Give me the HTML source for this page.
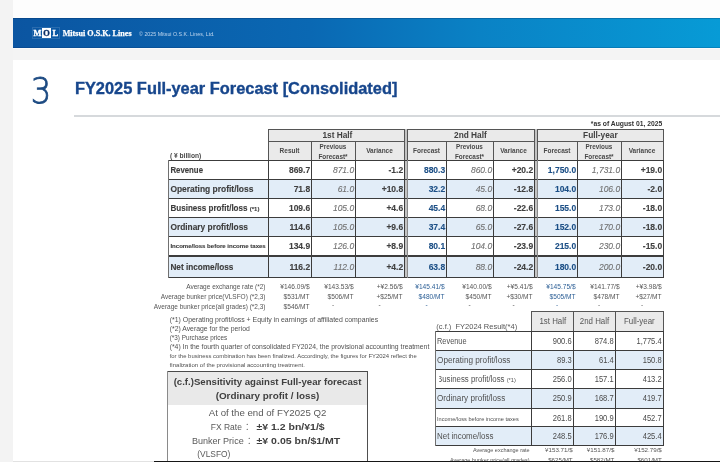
<!DOCTYPE html>
<html><head><meta charset="utf-8"><title>FY2025 Full-year Forecast [Consolidated]</title>
<style>
html,body{margin:0;padding:0;width:720px;height:462px;overflow:hidden;background:#f3f3f3;}
svg{display:block;font-family:"Liberation Sans","Noto Sans CJK JP",sans-serif;}
text{white-space:pre;}
</style></head><body>
<svg width="720" height="462" viewBox="0 0 720 462">
<defs><linearGradient id="g1" x1="0" y1="0" x2="1" y2="0"><stop offset="0" stop-color="#0b55a1"/><stop offset="0.42" stop-color="#0a68b3"/><stop offset="0.66" stop-color="#0a82c5"/><stop offset="1" stop-color="#079bd6"/></linearGradient></defs>
<rect x="0" y="0" width="720" height="462" fill="#f3f3f3"/>
<rect x="13" y="0" width="707" height="18" fill="#fdfdfd"/>
<rect x="13" y="18" width="707" height="30" fill="url(#g1)"/>
<rect x="13" y="48" width="707" height="12" fill="#f4f4f4"/>
<rect x="13" y="48" width="707" height="1" fill="#fafafa"/>
<rect x="13" y="18" width="707" height="1" fill="rgba(0,30,80,0.25)"/>
<rect x="13" y="47" width="707" height="1" fill="rgba(0,30,80,0.18)"/>
<rect x="13" y="60" width="707" height="402" fill="#ffffff"/>
<rect x="13" y="461" width="141" height="1" fill="#e2e2e2"/>
<rect x="154" y="461" width="566" height="1" fill="#161616"/>
<rect x="32.5" y="27.5" width="27" height="11" fill="none" stroke="rgba(255,255,255,0.13)" stroke-width="1"/>
<rect x="42" y="28" width="9" height="10" fill="#ffffff"/>
<text x="37.35" y="35.8" font-size="8.4" fill="#ffffff" stroke="#ffffff" stroke-width="0.35" font-weight="700" font-family="'Liberation Serif',serif" text-anchor="middle">M</text>
<text x="46.4" y="35.8" font-size="8.4" fill="#0d2f66" stroke="#0d2f66" stroke-width="0.35" font-weight="700" font-family="'Liberation Serif',serif" text-anchor="middle">O</text>
<text x="55.4" y="35.8" font-size="8.4" fill="#ffffff" stroke="#ffffff" stroke-width="0.35" font-weight="700" font-family="'Liberation Serif',serif" text-anchor="middle">L</text>
<text x="62.7" y="35.8" font-size="8.1" fill="#ffffff" stroke="#ffffff" stroke-width="0.25" font-weight="700" font-family="'Liberation Serif',serif" textLength="68.9" lengthAdjust="spacingAndGlyphs">Mitsui O.S.K. Lines</text>
<text x="139" y="35.6" font-size="5.4" fill="#c0d6ee" textLength="75.6" lengthAdjust="spacingAndGlyphs">&copy; 2025 Mitsui O.S.K. Lines, Ltd.</text>
<text x="0" y="0" transform="translate(30.7 103.3) scale(0.9 1)" font-size="35.8" font-weight="200" font-family="'DejaVu Sans',sans-serif" fill="#1c4a82" stroke="#1c4a82" stroke-width="0.85">3</text>
<text x="74.9" y="93.75" font-size="16.3" fill="#17468c" stroke="#17468c" stroke-width="0.35" font-weight="700" textLength="322.5" lengthAdjust="spacingAndGlyphs">FY2025 Full-year Forecast [Consolidated]</text>
<rect x="74" y="115" width="646" height="2" fill="#d6d9dc"/>
<text x="662.2" y="125.8" font-size="6.75" fill="#333333" font-weight="700" text-anchor="end">*as of August 01, 2025</text>
<rect x="268" y="129" width="136" height="31" fill="#eaeaea"/>
<rect x="407" y="129" width="127" height="31" fill="#eaeaea"/>
<rect x="537" y="129" width="126" height="31" fill="#eaeaea"/>
<rect x="168" y="160" width="236" height="19" fill="#ffffff"/>
<rect x="407" y="160" width="127" height="19" fill="#ffffff"/>
<rect x="537" y="160" width="126" height="19" fill="#ffffff"/>
<rect x="168" y="179" width="236" height="19" fill="#e2edf8"/>
<rect x="407" y="179" width="127" height="19" fill="#e2edf8"/>
<rect x="537" y="179" width="126" height="19" fill="#e2edf8"/>
<rect x="168" y="198" width="236" height="19" fill="#ffffff"/>
<rect x="407" y="198" width="127" height="19" fill="#ffffff"/>
<rect x="537" y="198" width="126" height="19" fill="#ffffff"/>
<rect x="168" y="217" width="236" height="19" fill="#e2edf8"/>
<rect x="407" y="217" width="127" height="19" fill="#e2edf8"/>
<rect x="537" y="217" width="126" height="19" fill="#e2edf8"/>
<rect x="168" y="236" width="236" height="19" fill="#ffffff"/>
<rect x="407" y="236" width="127" height="19" fill="#ffffff"/>
<rect x="537" y="236" width="126" height="19" fill="#ffffff"/>
<rect x="168" y="255" width="236" height="22" fill="#e2edf8"/>
<rect x="407" y="255" width="127" height="22" fill="#e2edf8"/>
<rect x="537" y="255" width="126" height="22" fill="#e2edf8"/>
<rect x="405" y="129" width="2" height="149" fill="#c2c2c2"/>
<rect x="535" y="129" width="2" height="149" fill="#c2c2c2"/>
<rect x="268" y="129" width="137" height="1" fill="#555555"/>
<rect x="268" y="141" width="137" height="1" fill="#555555"/>
<rect x="268" y="129" width="1" height="31" fill="#555555"/>
<rect x="404" y="129" width="1" height="31" fill="#555555"/>
<rect x="311" y="141" width="1" height="19" fill="#555555"/>
<rect x="355" y="141" width="1" height="19" fill="#555555"/>
<rect x="407" y="129" width="128" height="1" fill="#555555"/>
<rect x="407" y="141" width="128" height="1" fill="#555555"/>
<rect x="407" y="129" width="1" height="31" fill="#555555"/>
<rect x="534" y="129" width="1" height="31" fill="#555555"/>
<rect x="446" y="141" width="1" height="19" fill="#555555"/>
<rect x="493" y="141" width="1" height="19" fill="#555555"/>
<rect x="537" y="129" width="127" height="1" fill="#555555"/>
<rect x="537" y="141" width="127" height="1" fill="#555555"/>
<rect x="537" y="129" width="1" height="31" fill="#555555"/>
<rect x="663" y="129" width="1" height="31" fill="#555555"/>
<rect x="577" y="141" width="1" height="19" fill="#555555"/>
<rect x="621" y="141" width="1" height="19" fill="#555555"/>
<rect x="168" y="160" width="496" height="1" fill="#3c3c3c"/>
<rect x="168" y="179" width="496" height="1" fill="#3c3c3c"/>
<rect x="168" y="198" width="496" height="1" fill="#3c3c3c"/>
<rect x="168" y="217" width="496" height="1" fill="#3c3c3c"/>
<rect x="168" y="236" width="496" height="1" fill="#3c3c3c"/>
<rect x="168" y="255" width="496" height="2" fill="#3c3c3c"/>
<rect x="168" y="277" width="496" height="1" fill="#3c3c3c"/>
<rect x="168" y="160" width="1" height="118" fill="#707070"/>
<rect x="268" y="160" width="1" height="118" fill="#3c3c3c"/>
<rect x="311" y="160" width="1" height="118" fill="#3c3c3c"/>
<rect x="355" y="160" width="1" height="118" fill="#3c3c3c"/>
<rect x="404" y="160" width="1" height="118" fill="#3c3c3c"/>
<rect x="407" y="160" width="1" height="118" fill="#8a8a8a"/>
<rect x="446" y="160" width="1" height="118" fill="#3c3c3c"/>
<rect x="493" y="160" width="1" height="118" fill="#3c3c3c"/>
<rect x="534" y="160" width="1" height="118" fill="#3c3c3c"/>
<rect x="537" y="160" width="1" height="118" fill="#8a8a8a"/>
<rect x="577" y="160" width="1" height="118" fill="#3c3c3c"/>
<rect x="621" y="160" width="1" height="118" fill="#3c3c3c"/>
<rect x="663" y="160" width="1" height="118" fill="#3c3c3c"/>
<text x="337.4" y="137.9" font-size="8.3" fill="#404040" font-weight="700" text-anchor="middle">1st Half</text>
<text x="470.4" y="137.9" font-size="8.3" fill="#404040" font-weight="700" text-anchor="middle">2nd Half</text>
<text x="600.4" y="137.9" font-size="8.3" fill="#404040" font-weight="700" text-anchor="middle">Full-year</text>
<text x="0" y="0" transform="translate(289.5 153.2) scale(0.9259 1)" font-size="7.02" fill="#484848" font-weight="700" text-anchor="middle">Result</text>
<text x="0" y="0" transform="translate(333.0 148.5) scale(0.9259 1)" font-size="6.858" fill="#484848" font-weight="700" text-anchor="middle">Previous</text>
<text x="0" y="0" transform="translate(333.0 158.8) scale(0.9259 1)" font-size="6.912" fill="#484848" font-weight="700" text-anchor="middle">Forecast*</text>
<text x="0" y="0" transform="translate(379.5 153.2) scale(0.9259 1)" font-size="7.02" fill="#484848" font-weight="700" text-anchor="middle">Variance</text>
<text x="0" y="0" transform="translate(426.5 153.2) scale(0.9259 1)" font-size="7.02" fill="#484848" font-weight="700" text-anchor="middle">Forecast</text>
<text x="0" y="0" transform="translate(469.5 148.5) scale(0.9259 1)" font-size="6.858" fill="#484848" font-weight="700" text-anchor="middle">Previous</text>
<text x="0" y="0" transform="translate(469.5 158.8) scale(0.9259 1)" font-size="6.912" fill="#484848" font-weight="700" text-anchor="middle">Forecast*</text>
<text x="0" y="0" transform="translate(513.5 153.2) scale(0.9259 1)" font-size="7.02" fill="#484848" font-weight="700" text-anchor="middle">Variance</text>
<text x="0" y="0" transform="translate(557.0 153.2) scale(0.9259 1)" font-size="7.02" fill="#484848" font-weight="700" text-anchor="middle">Forecast</text>
<text x="0" y="0" transform="translate(599.0 148.5) scale(0.9259 1)" font-size="6.858" fill="#484848" font-weight="700" text-anchor="middle">Previous</text>
<text x="0" y="0" transform="translate(599.0 158.8) scale(0.9259 1)" font-size="6.912" fill="#484848" font-weight="700" text-anchor="middle">Forecast*</text>
<text x="0" y="0" transform="translate(642.0 153.2) scale(0.9259 1)" font-size="7.02" fill="#484848" font-weight="700" text-anchor="middle">Variance</text>
<text x="169.9" y="158.4" font-size="6.65" fill="#474747" font-weight="700">( &yen; billion)</text>
<text x="170.4" y="172.6" font-size="8.4" fill="#3d3d3d" stroke="#3d3d3d" stroke-width="0.12" font-weight="700" textLength="32.6" lengthAdjust="spacingAndGlyphs">Revenue</text>
<text x="310.2" y="172.6" font-size="8.5" fill="#404040" stroke="#404040" stroke-width="0.12" font-weight="700" text-anchor="end">869.7</text>
<text x="354.2" y="172.6" font-size="8.5" fill="#707070" stroke="#707070" stroke-width="0.1" font-style="italic" text-anchor="end">871.0</text>
<text x="403.2" y="172.6" font-size="8.5" fill="#404040" stroke="#404040" stroke-width="0.12" font-weight="700" text-anchor="end">-1.2</text>
<text x="445.2" y="172.6" font-size="8.5" fill="#1c4f86" stroke="#1c4f86" stroke-width="0.12" font-weight="700" text-anchor="end">880.3</text>
<text x="492.2" y="172.6" font-size="8.5" fill="#707070" stroke="#707070" stroke-width="0.1" font-style="italic" text-anchor="end">860.0</text>
<text x="533.2" y="172.6" font-size="8.5" fill="#404040" stroke="#404040" stroke-width="0.12" font-weight="700" text-anchor="end">+20.2</text>
<text x="576.2" y="172.6" font-size="8.5" fill="#1c4f86" stroke="#1c4f86" stroke-width="0.12" font-weight="700" text-anchor="end">1,750.0</text>
<text x="620.2" y="172.6" font-size="8.5" fill="#707070" stroke="#707070" stroke-width="0.1" font-style="italic" text-anchor="end">1,731.0</text>
<text x="662.2" y="172.6" font-size="8.5" fill="#404040" stroke="#404040" stroke-width="0.12" font-weight="700" text-anchor="end">+19.0</text>
<text x="170.4" y="191.6" font-size="8.4" fill="#3d3d3d" stroke="#3d3d3d" stroke-width="0.12" font-weight="700" textLength="83.0" lengthAdjust="spacingAndGlyphs">Operating profit/loss</text>
<text x="310.2" y="191.6" font-size="8.5" fill="#404040" stroke="#404040" stroke-width="0.12" font-weight="700" text-anchor="end">71.8</text>
<text x="354.2" y="191.6" font-size="8.5" fill="#707070" stroke="#707070" stroke-width="0.1" font-style="italic" text-anchor="end">61.0</text>
<text x="403.2" y="191.6" font-size="8.5" fill="#404040" stroke="#404040" stroke-width="0.12" font-weight="700" text-anchor="end">+10.8</text>
<text x="445.2" y="191.6" font-size="8.5" fill="#1c4f86" stroke="#1c4f86" stroke-width="0.12" font-weight="700" text-anchor="end">32.2</text>
<text x="492.2" y="191.6" font-size="8.5" fill="#707070" stroke="#707070" stroke-width="0.1" font-style="italic" text-anchor="end">45.0</text>
<text x="533.2" y="191.6" font-size="8.5" fill="#404040" stroke="#404040" stroke-width="0.12" font-weight="700" text-anchor="end">-12.8</text>
<text x="576.2" y="191.6" font-size="8.5" fill="#1c4f86" stroke="#1c4f86" stroke-width="0.12" font-weight="700" text-anchor="end">104.0</text>
<text x="620.2" y="191.6" font-size="8.5" fill="#707070" stroke="#707070" stroke-width="0.1" font-style="italic" text-anchor="end">106.0</text>
<text x="662.2" y="191.6" font-size="8.5" fill="#404040" stroke="#404040" stroke-width="0.12" font-weight="700" text-anchor="end">-2.0</text>
<text x="170.4" y="210.6" font-size="8.4" fill="#3d3d3d" stroke="#3d3d3d" stroke-width="0.12" font-weight="700" textLength="89.0" lengthAdjust="spacingAndGlyphs">Business profit/loss <tspan font-size="6.2">(*1)</tspan></text>
<text x="310.2" y="210.6" font-size="8.5" fill="#404040" stroke="#404040" stroke-width="0.12" font-weight="700" text-anchor="end">109.6</text>
<text x="354.2" y="210.6" font-size="8.5" fill="#707070" stroke="#707070" stroke-width="0.1" font-style="italic" text-anchor="end">105.0</text>
<text x="403.2" y="210.6" font-size="8.5" fill="#404040" stroke="#404040" stroke-width="0.12" font-weight="700" text-anchor="end">+4.6</text>
<text x="445.2" y="210.6" font-size="8.5" fill="#1c4f86" stroke="#1c4f86" stroke-width="0.12" font-weight="700" text-anchor="end">45.4</text>
<text x="492.2" y="210.6" font-size="8.5" fill="#707070" stroke="#707070" stroke-width="0.1" font-style="italic" text-anchor="end">68.0</text>
<text x="533.2" y="210.6" font-size="8.5" fill="#404040" stroke="#404040" stroke-width="0.12" font-weight="700" text-anchor="end">-22.6</text>
<text x="576.2" y="210.6" font-size="8.5" fill="#1c4f86" stroke="#1c4f86" stroke-width="0.12" font-weight="700" text-anchor="end">155.0</text>
<text x="620.2" y="210.6" font-size="8.5" fill="#707070" stroke="#707070" stroke-width="0.1" font-style="italic" text-anchor="end">173.0</text>
<text x="662.2" y="210.6" font-size="8.5" fill="#404040" stroke="#404040" stroke-width="0.12" font-weight="700" text-anchor="end">-18.0</text>
<text x="170.4" y="229.6" font-size="8.4" fill="#3d3d3d" stroke="#3d3d3d" stroke-width="0.12" font-weight="700" textLength="77.6" lengthAdjust="spacingAndGlyphs">Ordinary profit/loss</text>
<text x="310.2" y="229.6" font-size="8.5" fill="#404040" stroke="#404040" stroke-width="0.12" font-weight="700" text-anchor="end">114.6</text>
<text x="354.2" y="229.6" font-size="8.5" fill="#707070" stroke="#707070" stroke-width="0.1" font-style="italic" text-anchor="end">105.0</text>
<text x="403.2" y="229.6" font-size="8.5" fill="#404040" stroke="#404040" stroke-width="0.12" font-weight="700" text-anchor="end">+9.6</text>
<text x="445.2" y="229.6" font-size="8.5" fill="#1c4f86" stroke="#1c4f86" stroke-width="0.12" font-weight="700" text-anchor="end">37.4</text>
<text x="492.2" y="229.6" font-size="8.5" fill="#707070" stroke="#707070" stroke-width="0.1" font-style="italic" text-anchor="end">65.0</text>
<text x="533.2" y="229.6" font-size="8.5" fill="#404040" stroke="#404040" stroke-width="0.12" font-weight="700" text-anchor="end">-27.6</text>
<text x="576.2" y="229.6" font-size="8.5" fill="#1c4f86" stroke="#1c4f86" stroke-width="0.12" font-weight="700" text-anchor="end">152.0</text>
<text x="620.2" y="229.6" font-size="8.5" fill="#707070" stroke="#707070" stroke-width="0.1" font-style="italic" text-anchor="end">170.0</text>
<text x="662.2" y="229.6" font-size="8.5" fill="#404040" stroke="#404040" stroke-width="0.12" font-weight="700" text-anchor="end">-18.0</text>
<text x="170.4" y="248.29999999999998" font-size="6.07" fill="#3d3d3d" stroke="#3d3d3d" stroke-width="0.12" font-weight="700">Income/loss before income taxes</text>
<text x="310.2" y="248.6" font-size="8.5" fill="#404040" stroke="#404040" stroke-width="0.12" font-weight="700" text-anchor="end">134.9</text>
<text x="354.2" y="248.6" font-size="8.5" fill="#707070" stroke="#707070" stroke-width="0.1" font-style="italic" text-anchor="end">126.0</text>
<text x="403.2" y="248.6" font-size="8.5" fill="#404040" stroke="#404040" stroke-width="0.12" font-weight="700" text-anchor="end">+8.9</text>
<text x="445.2" y="248.6" font-size="8.5" fill="#1c4f86" stroke="#1c4f86" stroke-width="0.12" font-weight="700" text-anchor="end">80.1</text>
<text x="492.2" y="248.6" font-size="8.5" fill="#707070" stroke="#707070" stroke-width="0.1" font-style="italic" text-anchor="end">104.0</text>
<text x="533.2" y="248.6" font-size="8.5" fill="#404040" stroke="#404040" stroke-width="0.12" font-weight="700" text-anchor="end">-23.9</text>
<text x="576.2" y="248.6" font-size="8.5" fill="#1c4f86" stroke="#1c4f86" stroke-width="0.12" font-weight="700" text-anchor="end">215.0</text>
<text x="620.2" y="248.6" font-size="8.5" fill="#707070" stroke="#707070" stroke-width="0.1" font-style="italic" text-anchor="end">230.0</text>
<text x="662.2" y="248.6" font-size="8.5" fill="#404040" stroke="#404040" stroke-width="0.12" font-weight="700" text-anchor="end">-15.0</text>
<text x="170.4" y="269.8" font-size="8.4" fill="#3d3d3d" stroke="#3d3d3d" stroke-width="0.12" font-weight="700" textLength="63.0" lengthAdjust="spacingAndGlyphs">Net income/loss</text>
<text x="310.2" y="269.8" font-size="8.5" fill="#404040" stroke="#404040" stroke-width="0.12" font-weight="700" text-anchor="end">116.2</text>
<text x="354.2" y="269.8" font-size="8.5" fill="#707070" stroke="#707070" stroke-width="0.1" font-style="italic" text-anchor="end">112.0</text>
<text x="403.2" y="269.8" font-size="8.5" fill="#404040" stroke="#404040" stroke-width="0.12" font-weight="700" text-anchor="end">+4.2</text>
<text x="445.2" y="269.8" font-size="8.5" fill="#1c4f86" stroke="#1c4f86" stroke-width="0.12" font-weight="700" text-anchor="end">63.8</text>
<text x="492.2" y="269.8" font-size="8.5" fill="#707070" stroke="#707070" stroke-width="0.1" font-style="italic" text-anchor="end">88.0</text>
<text x="533.2" y="269.8" font-size="8.5" fill="#404040" stroke="#404040" stroke-width="0.12" font-weight="700" text-anchor="end">-24.2</text>
<text x="576.2" y="269.8" font-size="8.5" fill="#1c4f86" stroke="#1c4f86" stroke-width="0.12" font-weight="700" text-anchor="end">180.0</text>
<text x="620.2" y="269.8" font-size="8.5" fill="#707070" stroke="#707070" stroke-width="0.1" font-style="italic" text-anchor="end">200.0</text>
<text x="662.2" y="269.8" font-size="8.5" fill="#404040" stroke="#404040" stroke-width="0.12" font-weight="700" text-anchor="end">-20.0</text>
<text x="0" y="0" transform="translate(265.5 288.5) scale(0.9259 1)" font-size="7.02" fill="#555555" text-anchor="end">Average exchange rate (*2)</text>
<text x="0" y="0" transform="translate(309.6 288.5) scale(0.9259 1)" font-size="7.128" fill="#555555" text-anchor="end">&yen;146.09/$</text>
<text x="0" y="0" transform="translate(353.6 288.5) scale(0.9259 1)" font-size="7.128" fill="#555555" text-anchor="end">&yen;143.53/$</text>
<text x="0" y="0" transform="translate(402.6 288.5) scale(0.9259 1)" font-size="7.128" fill="#555555" text-anchor="end">+&yen;2.56/$</text>
<text x="0" y="0" transform="translate(444.6 288.5) scale(0.9259 1)" font-size="7.128" fill="#2f6197" text-anchor="end">&yen;145.41/$</text>
<text x="0" y="0" transform="translate(491.6 288.5) scale(0.9259 1)" font-size="7.128" fill="#555555" text-anchor="end">&yen;140.00/$</text>
<text x="0" y="0" transform="translate(532.6 288.5) scale(0.9259 1)" font-size="7.128" fill="#555555" text-anchor="end">+&yen;5.41/$</text>
<text x="0" y="0" transform="translate(575.6 288.5) scale(0.9259 1)" font-size="7.128" fill="#2f6197" text-anchor="end">&yen;145.75/$</text>
<text x="0" y="0" transform="translate(619.6 288.5) scale(0.9259 1)" font-size="7.128" fill="#555555" text-anchor="end">&yen;141.77/$</text>
<text x="0" y="0" transform="translate(661.6 288.5) scale(0.9259 1)" font-size="7.128" fill="#555555" text-anchor="end">+&yen;3.98/$</text>
<text x="0" y="0" transform="translate(265.5 298.6) scale(0.9259 1)" font-size="7.02" fill="#555555" text-anchor="end">Average bunker price(VLSFO) (*2,3)</text>
<text x="0" y="0" transform="translate(309.6 298.6) scale(0.9259 1)" font-size="7.128" fill="#555555" text-anchor="end">$531/MT</text>
<text x="0" y="0" transform="translate(353.6 298.6) scale(0.9259 1)" font-size="7.128" fill="#555555" text-anchor="end">$506/MT</text>
<text x="0" y="0" transform="translate(402.6 298.6) scale(0.9259 1)" font-size="7.128" fill="#555555" text-anchor="end">+$25/MT</text>
<text x="0" y="0" transform="translate(444.6 298.6) scale(0.9259 1)" font-size="7.128" fill="#2f6197" text-anchor="end">$480/MT</text>
<text x="0" y="0" transform="translate(491.6 298.6) scale(0.9259 1)" font-size="7.128" fill="#555555" text-anchor="end">$450/MT</text>
<text x="0" y="0" transform="translate(532.6 298.6) scale(0.9259 1)" font-size="7.128" fill="#555555" text-anchor="end">+$30/MT</text>
<text x="0" y="0" transform="translate(575.6 298.6) scale(0.9259 1)" font-size="7.128" fill="#2f6197" text-anchor="end">$505/MT</text>
<text x="0" y="0" transform="translate(619.6 298.6) scale(0.9259 1)" font-size="7.128" fill="#555555" text-anchor="end">$478/MT</text>
<text x="0" y="0" transform="translate(661.6 298.6) scale(0.9259 1)" font-size="7.128" fill="#555555" text-anchor="end">+$27/MT</text>
<text x="0" y="0" transform="translate(265.5 308.7) scale(0.9259 1)" font-size="7.02" fill="#555555" text-anchor="end">Average bunker price(all grades) (*2,3)</text>
<text x="0" y="0" transform="translate(309.6 308.7) scale(0.9259 1)" font-size="7.128" fill="#555555" text-anchor="end">$546/MT</text>
<text x="333.0" y="307.4" font-size="6.5" fill="#555555" text-anchor="middle">-</text>
<text x="379.5" y="307.4" font-size="6.5" fill="#555555" text-anchor="middle">-</text>
<text x="426.5" y="307.4" font-size="6.5" fill="#2f6197" text-anchor="middle">-</text>
<text x="469.5" y="307.4" font-size="6.5" fill="#555555" text-anchor="middle">-</text>
<text x="513.5" y="307.4" font-size="6.5" fill="#555555" text-anchor="middle">-</text>
<text x="557.0" y="307.4" font-size="6.5" fill="#2f6197" text-anchor="middle">-</text>
<text x="599.0" y="307.4" font-size="6.5" fill="#555555" text-anchor="middle">-</text>
<text x="642.0" y="307.4" font-size="6.5" fill="#555555" text-anchor="middle">-</text>
<text x="169.7" y="322.0" font-size="6.7" fill="#505050" textLength="208.5" lengthAdjust="spacingAndGlyphs">(*1) Operating profit/loss + Equity in earnings of affiliated companies</text>
<text x="169.7" y="331.0" font-size="6.7" fill="#505050" textLength="80.1" lengthAdjust="spacingAndGlyphs">(*2) Average for the period</text>
<text x="169.7" y="340.0" font-size="6.7" fill="#505050" textLength="57.4" lengthAdjust="spacingAndGlyphs">(*3) Purchase prices</text>
<text x="169.7" y="349.0" font-size="6.7" fill="#505050" textLength="259.6" lengthAdjust="spacingAndGlyphs">(*4) In the fourth quarter of consolidated FY2024, the provisional accounting treatment</text>
<text x="169.7" y="358.2" font-size="5.7" fill="#505050" textLength="247" lengthAdjust="spacingAndGlyphs">for the business combination has been finalized. Accordingly, the figures for FY2024 reflect the</text>
<text x="169.7" y="366.8" font-size="5.7" fill="#505050" textLength="135.2" lengthAdjust="spacingAndGlyphs">finalization of the provisional accounting treatment.</text>
<rect x="167" y="371" width="201" height="34" fill="#e9e9e9"/>
<rect x="167" y="371" width="201" height="1" fill="#4a4a4a"/>
<rect x="167" y="371" width="1" height="91" fill="#8a8a8a"/>
<rect x="367" y="371" width="1" height="91" fill="#4f4f4f"/>
<text x="267.5" y="385.2" font-size="9.65" fill="#404040" font-weight="700" text-anchor="middle">(c.f.)Sensitivity against Full-year forecast</text>
<text x="267.5" y="399.3" font-size="9.9" fill="#404040" font-weight="700" text-anchor="middle">(Ordinary profit / loss)</text>
<text x="267.6" y="415.8" font-size="9.8" fill="#595959" text-anchor="middle" textLength="117.5" lengthAdjust="spacingAndGlyphs">At of the end of FY2025 Q2</text>
<text x="241.9" y="429.7" font-size="9.7" fill="#595959" text-anchor="end" textLength="31.1" lengthAdjust="spacingAndGlyphs">FX Rate</text>
<text x="247.3" y="429.7" font-size="9.0" fill="#595959" font-family="'Noto Sans CJK JP',sans-serif" text-anchor="middle">：</text>
<text x="256.5" y="429.7" font-size="9.7" fill="#404040" font-weight="700" textLength="68.2" lengthAdjust="spacingAndGlyphs">&plusmn;&yen; 1.2 bn/&yen;1/$</text>
<text x="243.7" y="443.8" font-size="9.7" fill="#595959" text-anchor="end" textLength="51.8" lengthAdjust="spacingAndGlyphs">Bunker Price</text>
<text x="249.2" y="443.8" font-size="9.0" fill="#595959" font-family="'Noto Sans CJK JP',sans-serif" text-anchor="middle">：</text>
<text x="256.5" y="443.8" font-size="9.7" fill="#404040" font-weight="700" textLength="83.8" lengthAdjust="spacingAndGlyphs">&plusmn;&yen; 0.05 bn/$1/MT</text>
<text x="197.3" y="456.6" font-size="8.4" fill="#595959">(VLSFO)</text>
<text x="436.3" y="329.2" font-size="7.5" fill="#555555">(c.f.)&nbsp; FY2024 Result(*4)</text>
<rect x="531" y="311" width="132" height="20" fill="#eaeaea"/>
<rect x="435" y="331" width="228" height="19" fill="#ffffff"/>
<rect x="435" y="350" width="228" height="19" fill="#e2edf8"/>
<rect x="435" y="369" width="228" height="19" fill="#ffffff"/>
<rect x="435" y="388" width="228" height="20" fill="#e2edf8"/>
<rect x="435" y="408" width="228" height="18" fill="#ffffff"/>
<rect x="435" y="426" width="228" height="19" fill="#e2edf8"/>
<rect x="531" y="311" width="133" height="1" fill="#555555"/>
<rect x="531" y="311" width="1" height="20" fill="#555555"/>
<rect x="573" y="311" width="1" height="20" fill="#555555"/>
<rect x="615" y="311" width="1" height="20" fill="#555555"/>
<rect x="663" y="311" width="1" height="20" fill="#555555"/>
<rect x="435" y="331" width="229" height="1" fill="#3c3c3c"/>
<rect x="435" y="350" width="229" height="1" fill="#3c3c3c"/>
<rect x="435" y="369" width="229" height="1" fill="#3c3c3c"/>
<rect x="435" y="388" width="229" height="1" fill="#3c3c3c"/>
<rect x="435" y="408" width="229" height="1" fill="#3c3c3c"/>
<rect x="435" y="426" width="229" height="1" fill="#3c3c3c"/>
<rect x="435" y="445" width="229" height="1" fill="#3c3c3c"/>
<rect x="435" y="331" width="1" height="115" fill="#707070"/>
<rect x="531" y="331" width="1" height="115" fill="#3c3c3c"/>
<rect x="573" y="331" width="1" height="115" fill="#3c3c3c"/>
<rect x="615" y="331" width="1" height="115" fill="#3c3c3c"/>
<rect x="663" y="331" width="1" height="115" fill="#3c3c3c"/>
<text x="0" y="0" transform="translate(552.8 324.1) scale(0.9259 1)" font-size="8.532" fill="#555555" text-anchor="middle">1st Half</text>
<text x="0" y="0" transform="translate(594.5 324.1) scale(0.9259 1)" font-size="8.532" fill="#555555" text-anchor="middle">2nd Half</text>
<text x="0" y="0" transform="translate(639.3 324.1) scale(0.9259 1)" font-size="8.532" fill="#555555" text-anchor="middle">Full-year</text>
<text x="437" y="343.6" font-size="8.3" fill="#505050" textLength="29.6" lengthAdjust="spacingAndGlyphs">Revenue</text>
<text x="0" y="0" transform="translate(571.6 343.6) scale(0.8621 1)" font-size="8.758" fill="#4a4a4a" text-anchor="end">900.6</text>
<text x="0" y="0" transform="translate(613.6 343.6) scale(0.8621 1)" font-size="8.758" fill="#4a4a4a" text-anchor="end">874.8</text>
<text x="0" y="0" transform="translate(661.6 343.6) scale(0.8621 1)" font-size="8.758" fill="#4a4a4a" text-anchor="end">1,775.4</text>
<text x="437" y="362.6" font-size="8.3" fill="#505050" textLength="73.4" lengthAdjust="spacingAndGlyphs">Operating profit/loss</text>
<text x="0" y="0" transform="translate(571.6 362.6) scale(0.8621 1)" font-size="8.758" fill="#4a4a4a" text-anchor="end">89.3</text>
<text x="0" y="0" transform="translate(613.6 362.6) scale(0.8621 1)" font-size="8.758" fill="#4a4a4a" text-anchor="end">61.4</text>
<text x="0" y="0" transform="translate(661.6 362.6) scale(0.8621 1)" font-size="8.758" fill="#4a4a4a" text-anchor="end">150.8</text>
<text x="437" y="381.6" font-size="8.3" fill="#505050" textLength="78.8" lengthAdjust="spacingAndGlyphs">Business profit/loss <tspan font-size="6.0">(*1)</tspan></text>
<text x="0" y="0" transform="translate(571.6 381.6) scale(0.8621 1)" font-size="8.758" fill="#4a4a4a" text-anchor="end">256.0</text>
<text x="0" y="0" transform="translate(613.6 381.6) scale(0.8621 1)" font-size="8.758" fill="#4a4a4a" text-anchor="end">157.1</text>
<text x="0" y="0" transform="translate(661.6 381.6) scale(0.8621 1)" font-size="8.758" fill="#4a4a4a" text-anchor="end">413.2</text>
<text x="437" y="400.6" font-size="8.3" fill="#505050" textLength="68.2" lengthAdjust="spacingAndGlyphs">Ordinary profit/loss</text>
<text x="0" y="0" transform="translate(571.6 400.6) scale(0.8621 1)" font-size="8.758" fill="#4a4a4a" text-anchor="end">250.9</text>
<text x="0" y="0" transform="translate(613.6 400.6) scale(0.8621 1)" font-size="8.758" fill="#4a4a4a" text-anchor="end">168.7</text>
<text x="0" y="0" transform="translate(661.6 400.6) scale(0.8621 1)" font-size="8.758" fill="#4a4a4a" text-anchor="end">419.7</text>
<text x="437" y="420.6" font-size="5.6" fill="#505050">Income/loss before income taxes</text>
<text x="0" y="0" transform="translate(571.6 420.6) scale(0.8621 1)" font-size="8.758" fill="#4a4a4a" text-anchor="end">261.8</text>
<text x="0" y="0" transform="translate(613.6 420.6) scale(0.8621 1)" font-size="8.758" fill="#4a4a4a" text-anchor="end">190.9</text>
<text x="0" y="0" transform="translate(661.6 420.6) scale(0.8621 1)" font-size="8.758" fill="#4a4a4a" text-anchor="end">452.7</text>
<text x="437" y="438.6" font-size="8.3" fill="#505050" textLength="56.4" lengthAdjust="spacingAndGlyphs">Net income/loss</text>
<text x="0" y="0" transform="translate(571.6 438.6) scale(0.8621 1)" font-size="8.758" fill="#4a4a4a" text-anchor="end">248.5</text>
<text x="0" y="0" transform="translate(613.6 438.6) scale(0.8621 1)" font-size="8.758" fill="#4a4a4a" text-anchor="end">176.9</text>
<text x="0" y="0" transform="translate(661.6 438.6) scale(0.8621 1)" font-size="8.758" fill="#4a4a4a" text-anchor="end">425.4</text>
<rect x="437" y="372" width="2.2" height="13" fill="#ffffff"/>
<text x="529.7" y="451.8" font-size="5.5" fill="#555555" text-anchor="end">Average exchange rate</text>
<text x="572.6" y="451.8" font-size="6.2" fill="#555555" text-anchor="end">&yen;153.71/$</text>
<text x="614.4" y="451.8" font-size="6.2" fill="#555555" text-anchor="end">&yen;151.87/$</text>
<text x="661.8" y="451.8" font-size="6.2" fill="#555555" text-anchor="end">&yen;152.79/$</text>
<text x="529.7" y="461.5" font-size="5.5" fill="#555555" text-anchor="end">Average bunker price(all grades)</text>
<text x="572.6" y="461.5" font-size="6.2" fill="#555555" text-anchor="end">$625/MT</text>
<text x="614.4" y="461.5" font-size="6.2" fill="#555555" text-anchor="end">$582/MT</text>
<text x="661.8" y="461.5" font-size="6.2" fill="#555555" text-anchor="end">$601/MT</text>
<rect x="154" y="461" width="566" height="1" fill="#161616"/>
</svg>
</body></html>
